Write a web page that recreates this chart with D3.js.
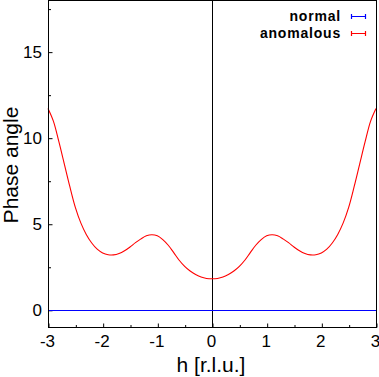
<!DOCTYPE html>
<html>
<head>
<meta charset="utf-8">
<script src="https://cdn.jsdelivr.net/npm/d3@7"></script>
<style>
  html, body { margin: 0; padding: 0; background: #fff; }
  svg { display: block; }
  text { font-family: "Liberation Sans", Arial, Helvetica, sans-serif; fill: #000; }
</style>
</head>
<body>
<svg id="chart" width="379" height="377"></svg>
<script>
// ---- data ----
const hValues = [
  -3.0, -2.9, -2.8, -2.7, -2.6, -2.5, -2.4, -2.3, -2.2, -2.1,
  -2.0, -1.9, -1.8, -1.7, -1.6, -1.5, -1.4, -1.3, -1.2, -1.1,
  -1.0, -0.9, -0.8, -0.7, -0.6, -0.5, -0.4, -0.3, -0.2, -0.1,
   0.0,
   0.1,  0.2,  0.3,  0.4,  0.5,  0.6,  0.7,  0.8,  0.9,  1.0,
   1.1,  1.2,  1.3,  1.4,  1.5,  1.6,  1.7,  1.8,  1.9,  2.0,
   2.1,  2.2,  2.3,  2.4,  2.5,  2.6,  2.7,  2.8,  2.9,  3.0
];
const anomalous = [
  11.70, 10.95, 9.75, 8.45, 7.15, 5.95, 5.05, 4.38, 3.88, 3.52,
   3.30, 3.20, 3.19, 3.27, 3.43, 3.65, 3.90, 4.12, 4.30, 4.36,
   4.30, 4.08, 3.75, 3.32, 2.88, 2.52, 2.25, 2.05, 1.90, 1.82,
   1.80,
   1.82, 1.90, 2.05, 2.25, 2.52, 2.88, 3.32, 3.75, 4.08, 4.30,
   4.36, 4.30, 4.12, 3.90, 3.65, 3.43, 3.27, 3.19, 3.20, 3.30,
   3.52, 3.88, 4.38, 5.05, 5.95, 7.15, 8.45, 9.75, 10.95, 11.70
];
const normalH = [-3, -2, -1, 0, 1, 2, 3];
const normal = [0, 0, 0, 0, 0, 0, 0];

const xTicks = [-3, -2, -1, 0, 1, 2, 3];
const xMinorTicks = [-2.5, -1.5, -0.5, 0.5, 1.5, 2.5];
const yTicks = [0, 5, 10, 15];
const yMinorTicks = [2.5, 7.5, 12.5, 17.5];
const seriesNames = ["normal", "anomalous"];
const seriesColors = ["#0000ff", "#ff0000"];
const xTitle = "h [r.l.u.]";
const yTitle = "Phase angle";

// ---- layout ----
const svg = d3.select("#chart");
const L = 48, R = 376, T = 0, B = 327;
const x = d3.scaleLinear().domain([-3, 3]).range([L, R]);
const y = d3.scaleLinear().domain([-1, 18]).range([B, T]);

// x axis ticks (inward)
const gx = svg.append("g").attr("transform", `translate(0.5,${B + 0.5})`);
gx.call(d3.axisBottom(x).tickValues(xTicks).tickSize(-4).tickFormat(d3.format("d")));
gx.select(".domain").remove();
gx.selectAll(".tick line").attr("stroke", "#000");
gx.selectAll(".tick text").attr("font-size", 17).attr("dx", -1.5).attr("dy", "0.71em").attr("y", 7)
  .text(d => (d < 0 ? "-" + Math.abs(d) : d));
const gxm = svg.append("g").attr("transform", `translate(0.5,${B + 0.5})`);
gxm.call(d3.axisBottom(x).tickValues(xMinorTicks).tickSize(-2.5).tickFormat(""));
gxm.select(".domain").remove();
gxm.selectAll(".tick line").attr("stroke", "#000");

// y axis ticks (inward)
const gy = svg.append("g").attr("transform", `translate(${L + 0.5},0.5)`);
gy.call(d3.axisLeft(y).tickValues(yTicks).tickSize(-4).tickFormat(d3.format("d")));
gy.select(".domain").remove();
gy.selectAll(".tick line").attr("stroke", "#000");
gy.selectAll(".tick text").attr("font-size", 17).attr("x", -6.5);
const gym = svg.append("g").attr("transform", `translate(${L + 0.5},0.5)`);
gym.call(d3.axisLeft(y).tickValues(yMinorTicks).tickSize(-2.5).tickFormat(""));
gym.select(".domain").remove();
gym.selectAll(".tick line").attr("stroke", "#000");
svg.selectAll(".tick text").attr("fill", "#000").attr("font-family", "'Liberation Sans', Arial, sans-serif");

// zero axis (vertical at h = 0)
svg.append("line")
  .attr("x1", Math.round(x(0)) + 0.5).attr("x2", Math.round(x(0)) + 0.5)
  .attr("y1", T).attr("y2", B)
  .attr("stroke", "#000").attr("stroke-width", 1);

// series
const line = d3.line().x(d => x(d[0])).y(d => y(d[1])).curve(d3.curveCatmullRom.alpha(0.5));
svg.append("path")
  .datum(normalH.map((h, i) => [h, normal[i]]))
  .attr("d", d3.line().x(d => x(d[0])).y(d => Math.round(y(d[1])) + 0.5))
  .attr("fill", "none").attr("stroke", seriesColors[0]).attr("stroke-width", 1.2);
svg.append("path")
  .datum(hValues.map((h, i) => [h, anomalous[i]]))
  .attr("d", line)
  .attr("fill", "none").attr("stroke", seriesColors[1]).attr("stroke-width", 1.1);

// frame
svg.append("rect")
  .attr("x", L + 0.5).attr("y", T + 0.5)
  .attr("width", R - L).attr("height", B - T)
  .attr("fill", "none").attr("stroke", "#000").attr("stroke-width", 1);

// legend
const legend = svg.append("g");
seriesNames.forEach((name, i) => {
  const ly = 16 + i * 16.5;
  const col = seriesColors[i];
  legend.append("text")
    .attr("x", 341).attr("y", ly + 5)
    .attr("text-anchor", "end")
    .attr("font-size", 14).attr("font-weight", "bold")
    .attr("letter-spacing", "0.8px")
    .text(name);
  const lyy = Math.round(ly) + 0.5;
  legend.append("path")
    .attr("d", `M351.5,${lyy - 2.5}V${lyy + 2.5}M351,${lyy}H366M365.5,${lyy - 2.5}V${lyy + 2.5}`)
    .attr("fill", "none")
    .style("stroke", col).attr("stroke-width", 1.2);
});

// axis titles
svg.append("text")
  .attr("x", 211).attr("y", 372)
  .attr("text-anchor", "middle")
  .attr("font-size", 21)
  .text(xTitle);
svg.append("text")
  .attr("transform", "translate(18,165) rotate(-90)")
  .attr("text-anchor", "middle")
  .attr("font-size", 21)
  .text(yTitle);
</script>
</body>
</html>
